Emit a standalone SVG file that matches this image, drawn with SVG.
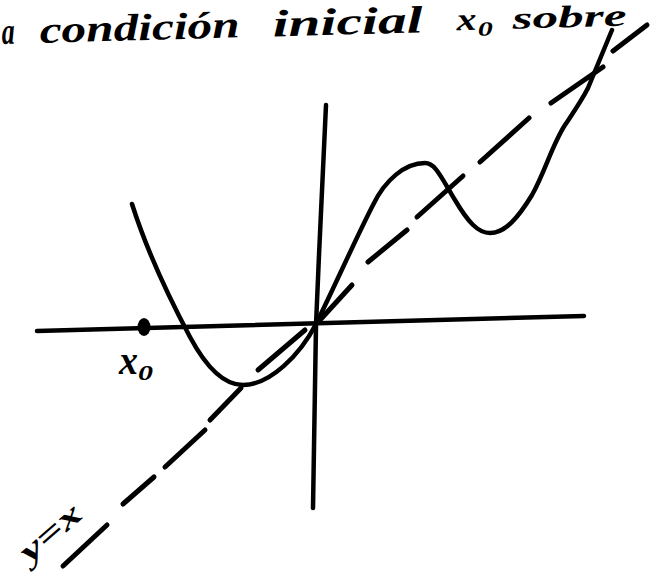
<svg xmlns="http://www.w3.org/2000/svg" width="656" height="584" viewBox="0 0 656 584">
<style>
.ink{fill:none;stroke:#000;stroke-linecap:round;stroke-linejoin:round}
.axis{stroke-width:4.5}
.curve{stroke-width:4.5}
.dash{stroke-width:5}
.hand{font-family:"Liberation Serif","DejaVu Serif",serif;font-style:italic;font-weight:bold;fill:#000}
</style>
<rect width="656" height="584" fill="#fff"/>
<g id="title" transform="rotate(-1.6 0 44)">
  <text class="hand" x="2" y="44" font-size="38" textLength="13" lengthAdjust="spacingAndGlyphs">a</text>
  <text class="hand" x="40" y="44" font-size="38" textLength="200" lengthAdjust="spacingAndGlyphs">condición</text>
  <text class="hand" x="273" y="44" font-size="38" textLength="150" lengthAdjust="spacingAndGlyphs">inicial</text>
  <text class="hand" x="457" y="43" font-size="32" textLength="20" lengthAdjust="spacingAndGlyphs">x</text>
  <text class="hand" x="478" y="49" font-size="20" textLength="15" lengthAdjust="spacingAndGlyphs">0</text>
  <text class="hand" x="513" y="43" font-size="31" textLength="114" lengthAdjust="spacingAndGlyphs">sobre</text>
</g>
<g id="axes">
  <path id="x-axis" class="ink axis" d="M37,331 L584,316"/>
  <path id="y-axis" class="ink axis" d="M326,105 L319,255 L316,325 L313,508"/>
</g>
<g id="connectors">
  <g id="diagonal-yx" class="ink dash">
    <line x1="63" y1="566" x2="107" y2="525"/>
    <line x1="123" y1="504" x2="154" y2="477"/>
    <line x1="165" y1="467" x2="205" y2="430"/>
    <line x1="210" y1="420" x2="241" y2="388"/>
    <line x1="258" y1="370" x2="305" y2="330"/>
    <line x1="320" y1="320" x2="352" y2="285"/>
    <line x1="368" y1="262" x2="407" y2="230"/>
    <line x1="417" y1="217" x2="463" y2="176"/>
    <line x1="480" y1="162" x2="529" y2="118"/>
    <line x1="551" y1="103" x2="603" y2="67"/>
    <line x1="613" y1="51" x2="647" y2="25"/>
  </g>
  <path id="graph" class="ink curve" d="M132,204 C145,245 165,290 190,337 C205,365 222,385 243,385 C270,385 300,355 316,324 C333,290 355,240 373,205 C385,180 405,163 425,163 C435,163 440,175 455,200 C468,222 478,233 490,233 C505,233 518,218 532,195 C545,172 552,145 565,125 C575,110 582,100 588,88 L612,30"/>
</g>
<g id="x0">
  <ellipse cx="144" cy="327" rx="6.5" ry="9" fill="#000"/>
  <text class="hand" x="119" y="374" font-size="40" textLength="19" lengthAdjust="spacingAndGlyphs">x</text>
  <text class="hand" x="138" y="380" font-size="22" textLength="15" lengthAdjust="spacingAndGlyphs">0</text>
</g>
<g id="label-yx" transform="translate(30,564) rotate(-41)">
  <text class="hand" x="0" y="0" font-size="32" textLength="72" lengthAdjust="spacingAndGlyphs">y=x</text>
</g>
</svg>
